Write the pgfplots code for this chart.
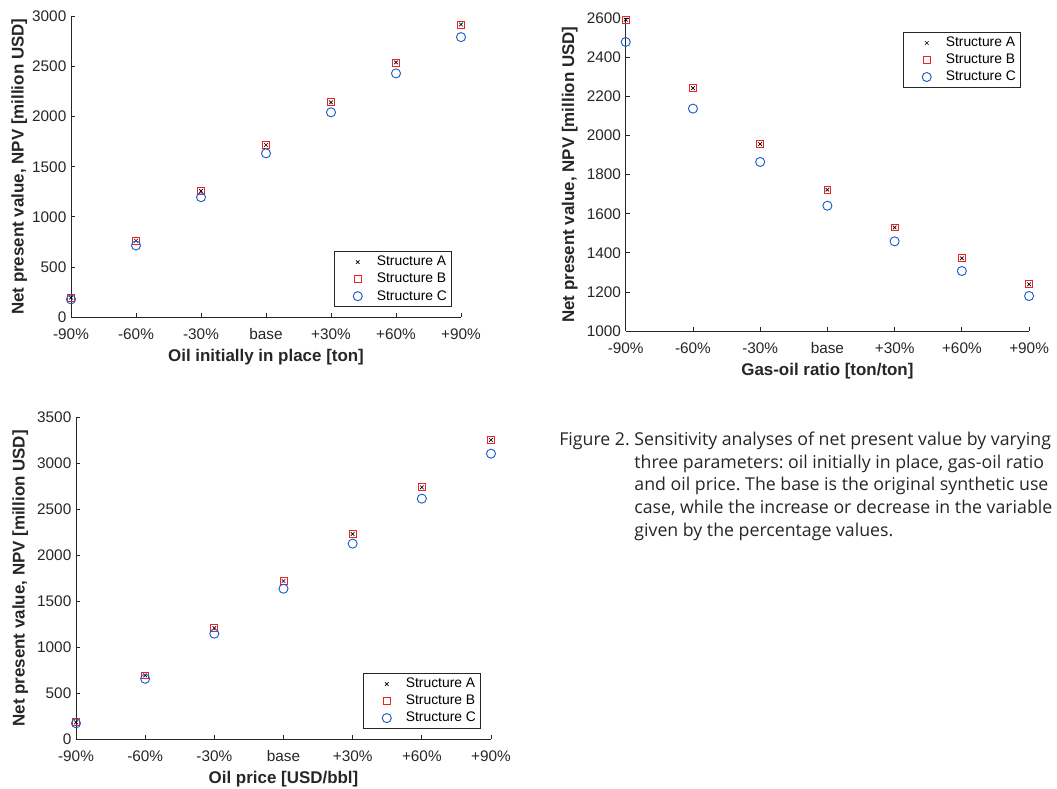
\documentclass[border=0pt]{standalone}
\usepackage{fontspec}
\setmainfont{Liberation Sans}
\newfontfamily\capfont{Open Sans}
\usepackage{pgfplots}
\pgfplotsset{compat=1.18}
\definecolor{axgray}{gray}{0.15}
\definecolor{mred}{RGB}{235,35,35}
\definecolor{mblue}{RGB}{30,90,200}

\pgfplotstableread{
x A B C
0 193 193 176
1 761 761 714
2 1259 1259 1196
3 1717 1717 1634
4 2143 2143 2043
5 2541 2541 2432
6 2920 2920 2794
}\oiip
\pgfplotstableread{
x A B C
0 2593 2593 2479
1 2243 2243 2138
2 1957 1957 1865
3 1723 1723 1641
4 1530 1530 1459
5 1372 1372 1307
6 1239 1239 1179
}\gor
\pgfplotstableread{
x A B C
0 182 182 171
1 693 693 656
2 1209 1209 1147
3 1721 1721 1637
4 2233 2233 2128
5 2741 2741 2618
6 3257 3257 3108
}\oilp

\pgfplotsset{
 npv/.style={
  scale only axis,
  axis x line*=bottom, axis y line*=left,
  axis line style={axgray, line width=0.6pt, -},
  tick style={axgray, line width=0.6pt},
  tick align=inside,
  major tick length=3pt,
  xmin=0, xmax=6,
  xtick={0,...,6},
  xticklabels={-90\%,-60\%,-30\%,base,+30\%,+60\%,+90\%},
  ticklabel style={font=\fontsize{11.5}{13}\selectfont, text=axgray},
  xticklabel style={yshift=-5pt},
  label style={font=\bfseries\fontsize{12.7}{14}\selectfont, text=axgray},
  /pgf/number format/assume math mode=true,
  /pgf/number format/1000 sep={},
  legend style={font=\fontsize{10.4}{12}\selectfont, draw=axgray, line width=0.6pt, text=black, inner sep=1.5pt},
  legend cell align=left,
  legend image code/.code={%
    \path (-16pt,0pt) (12pt,0pt);
    \draw[##1] plot coordinates {(0pt,0pt)};},
  ylabel={Net present value, NPV [million USD]},
  clip=false,
 },
 sA/.style={only marks, mark=x, mark size=1.9pt, black, mark options={line width=0.5pt}},
 sB/.style={only marks, mark=square, mark size=2.6pt, mred, mark options={line width=0.6pt}},
 sC/.style={only marks, mark=o, mark size=3.4pt, mblue, mark options={line width=0.7pt}},
}

\begin{document}
\begin{tikzpicture}
\useasboundingbox (0,0) rectangle (792.75pt,591.75pt);

\begin{axis}[npv, at={(53.25pt,354pt)}, anchor=south west,
  width=292.5pt, height=225.4pt,
  ymin=0, ymax=3000, ytick={0,500,...,3000},
  ylabel shift=-3pt,
  xlabel={Oil initially in place [ton]},
  legend style={at={(0.977,0.033)}, anchor=south east}]
\addplot[sA] table[x=x,y=A] {\oiip};
\addplot[sB] table[x=x,y=B] {\oiip};
\addplot[sC] table[x=x,y=C] {\oiip};
\legend{Structure A,Structure B,Structure C}
\end{axis}

\begin{axis}[npv, at={(469.3pt,343.5pt)}, anchor=south west,
  width=302.5pt, height=234.5pt,
  ymin=1000, ymax=2600, ytick={1000,1200,...,2600},
  xlabel={Gas-oil ratio [ton/ton]},
  legend style={at={(0.980,0.956)}, anchor=north east}]
\addplot[sA] table[x=x,y=A] {\gor};
\addplot[sB] table[x=x,y=B] {\gor};
\addplot[sC] table[x=x,y=C] {\gor};
\legend{Structure A,Structure B,Structure C}
\end{axis}

\begin{axis}[npv, at={(57pt,37.5pt)}, anchor=south west,
  width=311.25pt, height=241pt,
  ymin=0, ymax=3500, ytick={0,500,...,3500},
  xlabel={Oil price [USD/bbl]},
  legend style={at={(0.976,0.031)}, anchor=south east}]
\addplot[sA] table[x=x,y=A] {\oilp};
\addplot[sB] table[x=x,y=B] {\oilp};
\addplot[sC] table[x=x,y=C] {\oilp};
\legend{Structure A,Structure B,Structure C}
\end{axis}

\node[anchor=base west, inner sep=0pt, text=axgray, font=\capfont\fontsize{13.3}{17}\selectfont\frenchspacing] at (419.25pt,257.6pt)
{\begin{tabular}[t]{@{}l@{\ }l@{}}
Figure 2. & Sensitivity analyses of net present value by varying\\
 & three parameters: oil initially in place, gas-oil ratio\\
 & and oil price. The base is the original synthetic use\\
 & case, while the increase or decrease in the variable\\
 & given by the percentage values.
\end{tabular}};
\end{tikzpicture}
\end{document}
